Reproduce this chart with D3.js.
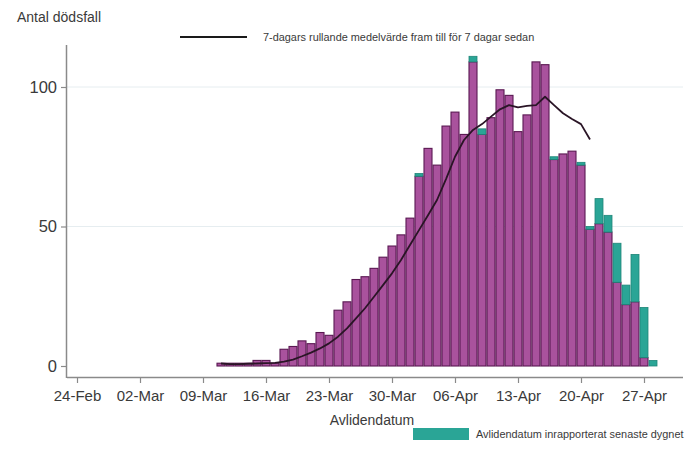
<!DOCTYPE html>
<html>
<head>
<meta charset="utf-8">
<script src="https://cdn.jsdelivr.net/npm/d3@7/dist/d3.min.js"></script>
<style>
  html, body { margin: 0; padding: 0; background: #ffffff; }
  svg { display: block; font-family: "Liberation Sans", Arial, sans-serif; }
</style>
</head>
<body>
<svg id="chart" width="700" height="452"></svg>
<script>
// ---- data ----
const dates = [
  "2020-03-11","2020-03-12","2020-03-13","2020-03-14","2020-03-15","2020-03-16","2020-03-17",
  "2020-03-18","2020-03-19","2020-03-20","2020-03-21","2020-03-22","2020-03-23","2020-03-24",
  "2020-03-25","2020-03-26","2020-03-27","2020-03-28","2020-03-29","2020-03-30","2020-03-31",
  "2020-04-01","2020-04-02","2020-04-03","2020-04-04","2020-04-05","2020-04-06","2020-04-07",
  "2020-04-08","2020-04-09","2020-04-10","2020-04-11","2020-04-12","2020-04-13","2020-04-14",
  "2020-04-15","2020-04-16","2020-04-17","2020-04-18","2020-04-19","2020-04-20","2020-04-21",
  "2020-04-22","2020-04-23","2020-04-24","2020-04-25","2020-04-26","2020-04-27","2020-04-28"
];
const deathsReported = [
  1,1,1,1,2,2,1,
  6,7,9,8,12,11,20,
  23,31,32,35,39,43,47,
  53,68,78,72,86,91,83,
  109,83,89,99,97,84,90,
  109,108,74,76,77,72,49,
  51,48,30,22,23,3,0
];
const deathsLastDay = [
  0,0,0,0,0,0,0,
  0,0,0,0,0,0,0,
  0,0,0,0,0,0,0,
  0,1,0,0,0,0,0,
  2,2,0,0,0,0,0,
  0,0,1,0,0,1,1,
  9,6,14,7,17,18,2
];
const avgDates = dates.slice(0, 42); // 11-Mar .. 21-Apr
const rollingAvg = [
  0.9,0.7,0.7,0.8,0.9,1.0,1.1,
  1.6,2.3,3.5,4.8,6.3,8.1,10.5,
  13.5,17.1,20.7,24.8,29.0,33.2,38.0,
  43.4,48.7,54.0,59.5,67.0,75.0,81.0,
  84.6,86.7,89.4,92.0,93.5,92.7,93.2,
  93.5,96.5,93.5,90.6,88.5,86.7,81.2
];
const xTickDates = ["2020-02-24","2020-03-02","2020-03-09","2020-03-16","2020-03-23",
                    "2020-03-30","2020-04-06","2020-04-13","2020-04-20","2020-04-27"];
const yTicks = [0, 50, 100];

const yTitle = "Antal dödsfall";
const xTitle = "Avlidendatum";
const lineLegend = "7-dagars rullande medelvärde fram till för 7 dagar sedan";
const barLegend = "Avlidendatum inrapporterat senaste dygnet";

// ---- drawing ----
const parse = d3.utcParse("%Y-%m-%d");
const svg = d3.select("#chart");

const purple = "#a9529d";
const purpleEdge = "#5a1852";
const teal = "#2aa596";
const axisCol = "#8a8a8a";
const textCol = "#3a3a3a";

const x = d3.scaleUtc()
  .domain([parse("2020-02-24"), parse("2020-04-27")])
  .range([77, 644]);
const dayW = x(parse("2020-02-25")) - x(parse("2020-02-24"));

const y = d3.scaleLinear().domain([0, 100]).range([366, 87]);

const plotLeft = 67, plotRight = 683, axisY = 377, plotTop = 45;

// gridlines
svg.append("g").selectAll("line").data(yTicks.filter(v => v > 0)).join("line")
  .attr("x1", plotLeft).attr("x2", plotRight)
  .attr("y1", d => y(d)).attr("y2", d => y(d))
  .attr("stroke", "#e6edf0").attr("stroke-width", 1);

// bars
const barData = dates.map((d, i) => ({ date: parse(d), a: deathsReported[i], b: deathsLastDay[i] }));
const gBars = svg.append("g");
barData.forEach(d => {
  const x0 = x(d.date) - dayW / 2;
  if (d.a > 0) {
    gBars.append("rect")
      .attr("x", x0 + 0.5).attr("width", dayW - 1)
      .attr("y", y(d.a)).attr("height", y(0) - y(d.a))
      .attr("fill", purple).attr("stroke", purpleEdge).attr("stroke-width", 1.1);
  }
  if (d.b > 0) {
    gBars.append("rect")
      .attr("x", x0 + 0.5).attr("width", dayW - 1)
      .attr("y", y(d.a + d.b)).attr("height", y(d.a) - y(d.a + d.b))
      .attr("fill", teal).attr("stroke", "#1f8578").attr("stroke-width", 0.8);
  }
});

// rolling average line
const lineData = avgDates.map((d, i) => ({ date: parse(d), v: rollingAvg[i] }));
svg.append("path")
  .datum(lineData)
  .attr("fill", "none")
  .attr("stroke", "#2a1526")
  .attr("stroke-width", 1.8)
  .attr("stroke-linejoin", "round")
  .attr("d", d3.line().x(d => x(d.date)).y(d => y(d.v)));

// x axis
const xAxis = d3.axisBottom(x)
  .tickValues(xTickDates.map(parse))
  .tickFormat(d3.utcFormat("%d-%b"))
  .tickSize(6).tickSizeOuter(0).tickPadding(7);
const gx = svg.append("g").attr("transform", `translate(0,${axisY})`).call(xAxis);
gx.select(".domain").remove();
gx.append("line").attr("x1", plotLeft).attr("x2", plotRight).attr("y1", 0.5).attr("y2", 0.5)
  .attr("stroke", axisCol).attr("stroke-width", 1.5);
gx.selectAll(".tick line").attr("stroke", axisCol).attr("stroke-width", 1.2);
gx.selectAll(".tick text").attr("fill", textCol).attr("font-size", 15)
  .attr("font-family", "'Liberation Sans', Arial, sans-serif");

// y axis
const yAxis = d3.axisLeft(y).tickValues(yTicks).tickSize(6).tickSizeOuter(0).tickPadding(4);
const gy = svg.append("g").attr("transform", `translate(${plotLeft},0)`).call(yAxis);
gy.select(".domain").remove();
gy.append("line").attr("x1", -0.5).attr("x2", -0.5).attr("y1", plotTop).attr("y2", axisY + 1)
  .attr("stroke", axisCol).attr("stroke-width", 1.5);
gy.selectAll(".tick line").attr("stroke", axisCol).attr("stroke-width", 1.2);
gy.selectAll(".tick text").attr("fill", textCol).attr("font-size", 16.5)
  .attr("font-family", "'Liberation Sans', Arial, sans-serif");

// titles
svg.append("text").attr("x", 17).attr("y", 22).text(yTitle)
  .attr("fill", textCol).attr("font-size", 14);
svg.append("text").attr("x", 372).attr("y", 425).attr("text-anchor", "middle").text(xTitle)
  .attr("fill", textCol).attr("font-size", 14);

// legends
svg.append("line").attr("x1", 180).attr("x2", 247).attr("y1", 37).attr("y2", 37)
  .attr("stroke", "#1a1a1a").attr("stroke-width", 1.8);
svg.append("text").attr("x", 263).attr("y", 40.5).text(lineLegend)
  .attr("fill", textCol).attr("font-size", 10.9);

svg.append("rect").attr("x", 413).attr("y", 428).attr("width", 56).attr("height", 12)
  .attr("fill", teal);
svg.append("text").attr("x", 476).attr("y", 438).text(barLegend)
  .attr("fill", textCol).attr("font-size", 10.9);
</script>
</body>
</html>
